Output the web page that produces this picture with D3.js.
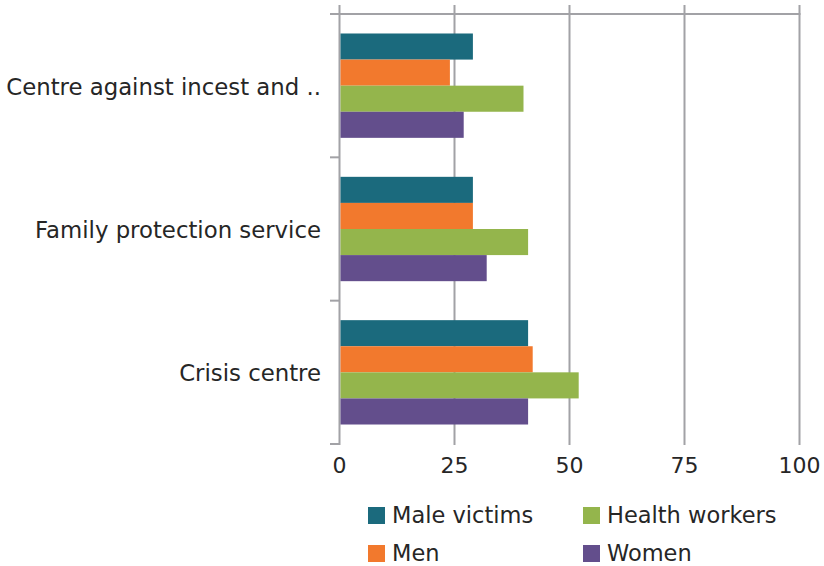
<!DOCTYPE html>
<html>
<head>
<meta charset="utf-8">
<script src="https://cdn.jsdelivr.net/npm/d3@7"></script>
<style>
  body { margin: 0; background: #fff; }
  text { font-family: "DejaVu Sans", Verdana, sans-serif; fill: #262626; }
</style>
</head>
<body>
<div id="chart"></div>
<script>
// chart data
const categories = ["Centre against incest and ..", "Family protection service", "Crisis centre"];
const seriesNames = ["Male victims", "Men", "Health workers", "Women"];
const seriesColors = ["#1b6a7d", "#f2792d", "#94b54c", "#634e8c"];
const maleVictims = [29, 29, 41];
const men = [24, 29, 42];
const healthWorkers = [40, 41, 52];
const women = [27, 32, 41];
const xTicks = [0, 25, 50, 75, 100];

const seriesValues = [maleVictims, men, healthWorkers, women];

const width = 824, height = 566;
const svg = d3.select("#chart").append("svg")
    .attr("width", width)
    .attr("height", height);

const x = d3.scaleLinear().domain([0, 100]).range([339.5, 799.5]);
const y = d3.scaleBand().domain(categories).range([14, 444]);
const inner = y.bandwidth() * 0.136;
const ySub = d3.scaleBand().domain(seriesNames).range([inner, y.bandwidth() - inner]);

const gridColor = "#a2a2a6";

// vertical gridlines
svg.append("g").selectAll("line")
    .data(xTicks)
    .enter().append("line")
    .attr("x1", d => x(d)).attr("x2", d => x(d))
    .attr("y1", 5).attr("y2", 445)
    .attr("stroke", gridColor)
    .attr("stroke-width", 2);

// top line
svg.append("line")
    .attr("x1", 330).attr("x2", x(100) + 1)
    .attr("y1", 14).attr("y2", 14)
    .attr("stroke", gridColor).attr("stroke-width", 2);

// category ticks
svg.append("g").selectAll("line")
    .data(categories)
    .enter().append("line")
    .attr("x1", 330).attr("x2", x(0))
    .attr("y1", d => y(d) + y.bandwidth()).attr("y2", d => y(d) + y.bandwidth())
    .attr("stroke", gridColor).attr("stroke-width", 2);

// bars
seriesNames.forEach(function(name, i) {
    svg.append("g").selectAll("rect")
        .data(categories)
        .enter().append("rect")
        .attr("x", x(0) + 1)
        .attr("y", d => y(d) + ySub(name))
        .attr("width", (d, j) => x(seriesValues[i][j]) - x(0) - 1)
        .attr("height", ySub.bandwidth())
        .attr("fill", seriesColors[i]);
});

// category labels
svg.append("g").selectAll("text")
    .data(categories)
    .enter().append("text")
    .attr("x", 321)
    .attr("y", d => y(d) + y.bandwidth() / 2 + 9)
    .attr("text-anchor", "end")
    .style("font-size", "22.8px")
    .text(d => d);

// x tick labels
svg.append("g").selectAll("text")
    .data(xTicks)
    .enter().append("text")
    .attr("x", d => x(d))
    .attr("y", 473)
    .attr("text-anchor", "middle")
    .style("font-size", "22px")
    .text(d => d);

// legend
const legendX = [368, 583];
const legendY = [507, 545];
seriesNames.forEach(function(name, i) {
    const lx = legendX[Math.floor(i / 2)];
    const ly = legendY[i % 2];
    svg.append("rect")
        .attr("x", lx).attr("y", ly)
        .attr("width", 17).attr("height", 17)
        .attr("fill", seriesColors[i]);
    svg.append("text")
        .attr("x", lx + 24).attr("y", ly + 16)
        .style("font-size", "22.5px")
        .text(name);
});
</script>
</body>
</html>
